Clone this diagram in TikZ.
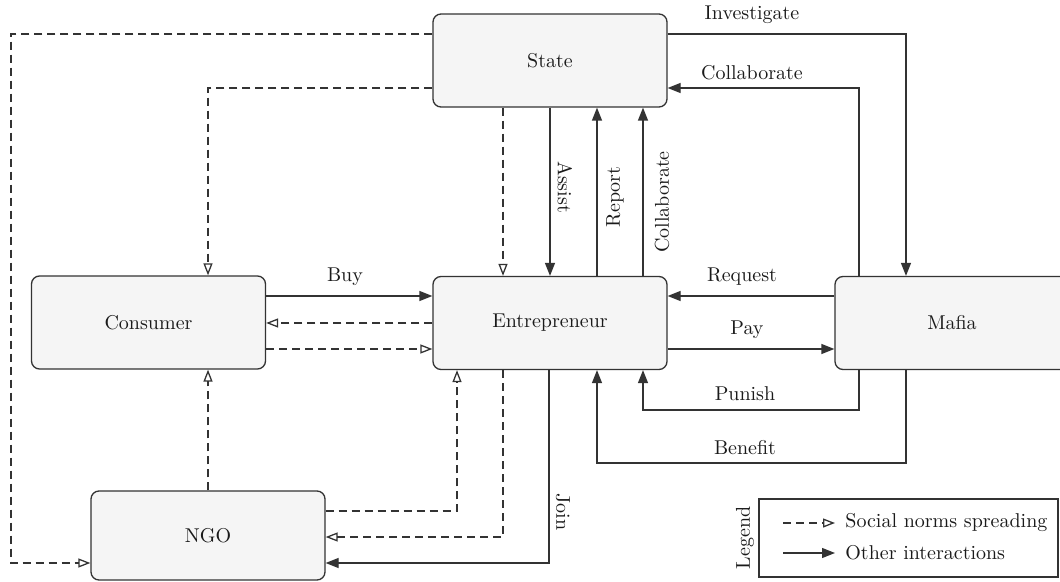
\documentclass[tikz,border=0pt]{standalone}
\usetikzlibrary{arrows.meta}
\definecolor{boxfill}{HTML}{F5F5F5}
\definecolor{ln}{HTML}{333333}
\definecolor{tx}{HTML}{1A1A1A}
\begin{document}
\begin{tikzpicture}[x=0.5pt,y=-0.5pt,
  box/.style={draw=ln, fill=boxfill, rounded corners=4pt, minimum width=117pt,
    minimum height=46.5pt, line width=0.65pt, font=\fontsize{10}{12}\selectfont, text=tx},
  oth/.style={draw=ln, line width=0.65pt, -{Triangle[length=6.5pt,width=5pt]}},
  soc/.style={draw=ln, line width=0.65pt, dash pattern=on 4pt off 2.5pt,
    -{Triangle[open,length=6pt,width=4.5pt]}},
  lbl/.style={font=\fontsize{10}{12}\selectfont, text=tx, inner sep=1pt}]
\clip (0,0) rectangle (1060,582);
% boxes
\node[box] (state) at (550,60.5) {State};
\node[box] (consumer) at (148.5,322.5) {Consumer};
\node[box] (ent) at (550,323) {Entrepreneur};
\node[box] (mafia) at (952,323) {Mafia};
\node[box, minimum height=44.5pt] (ngo) at (208,535.5) {NGO};
% social norms
\draw[soc] (state.west |- 0,34) -- (11,34) -- (11,563) -- (ngo.west |- 0,563);
\draw[soc] (state.west |- 0,88) -- (208,88) -- (consumer.north -| 208,0);
\draw[soc] (state.south -| 503,0) -- (ent.north -| 503,0);
\draw[soc] (ent.west |- 0,323) -- (consumer.east |- 0,323);
\draw[soc] (consumer.east |- 0,349) -- (ent.west |- 0,349);
\draw[soc] (ngo.east |- 0,511) -- (457,511) -- (ent.south -| 457,0);
\draw[soc] (ent.south -| 503,0) -- (503,537) -- (ngo.east |- 0,537);
\draw[soc] (ngo.north -| 208,0) -- (consumer.south -| 208,0);
% other interactions
\draw[oth] (state.south -| 550,0) -- (ent.north -| 550,0);
\node[lbl, rotate=-90] (lassist) at (565,187) {Assist};
\draw[oth] (ent.north -| 597,0) -- (state.south -| 597,0);
\node[lbl, rotate=90] (lreport) at (615,197) {Report};
\draw[oth] (ent.north -| 643,0) -- (state.south -| 643,0);
\node[lbl, rotate=90] (lcollab1) at (662,202) {Collaborate};
\draw[oth] (state.east |- 0,34) -- (906,34) -- (mafia.north -| 906,0);
\node[lbl] (linv) at (752,15) {Investigate};
\draw[oth] (mafia.north -| 859,0) -- (859,88) -- (state.east |- 0,88);
\node[lbl] (lcollab2) at (752,73) {Collaborate};
\draw[oth] (consumer.east |- 0,296) -- (ent.west |- 0,296);
\node[lbl] (lbuy) at (345,277) {Buy};
\draw[oth] (mafia.west |- 0,296) -- (ent.east |- 0,296);
\node[lbl] (lreq) at (742,277) {Request};
\draw[oth] (ent.east |- 0,349) -- (mafia.west |- 0,349);
\node[lbl] (lpay) at (747,330) {Pay};
\draw[oth] (mafia.south -| 859,0) -- (859,410) -- (643,410) -- (ent.south -| 643,0);
\node[lbl] (lpun) at (745,394) {Punish};
\draw[oth] (mafia.south -| 906,0) -- (906,463) -- (597,463) -- (ent.south -| 597,0);
\node[lbl] (lben) at (745,448) {Benefit};
\draw[oth] (ent.south -| 549,0) -- (549,563) -- (ngo.east |- 0,563);
\node[lbl, rotate=-90] (ljoin) at (563,512) {Join};
% legend
\node[draw=ln, line width=0.65pt, minimum width=149.5pt, minimum height=39pt, inner sep=0pt] (legend) at (908.5,538) {};
\node[lbl, rotate=90] (llegend) at (745,538) {Legend};
\coordinate (l1a) at (783,523);
\coordinate (l1b) at (835,523);
\coordinate (l2a) at (783,553);
\coordinate (l2b) at (835,553);
\draw[soc] (l1a) -- (l1b);
\draw[oth] (l2a) -- (l2b);
\node[lbl, anchor=west] (lsoc) at (843,523) {Social norms spreading};
\node[lbl, anchor=west] (loth) at (843,553) {Other interactions};
\end{tikzpicture}
\end{document}
